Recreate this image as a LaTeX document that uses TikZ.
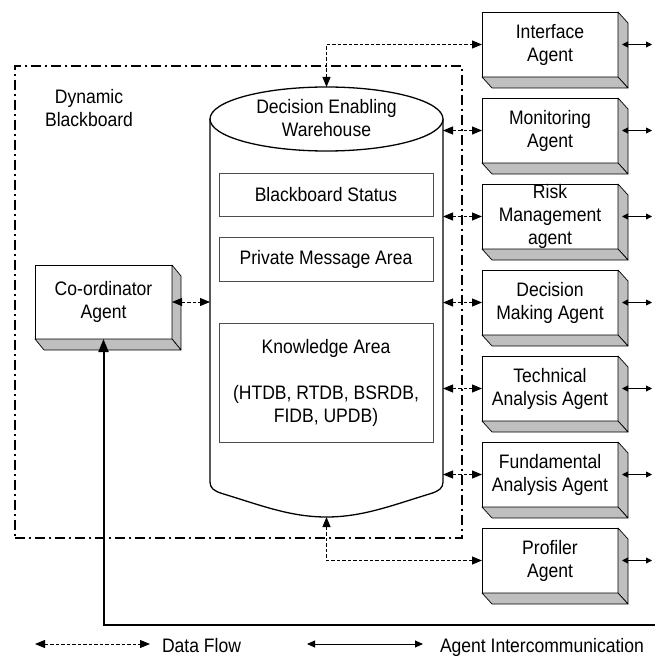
\documentclass[tikz,border=0pt]{standalone}
\usepackage{fontspec}
\setmainfont{Liberation Sans}[FakeStretch=0.9]
\usetikzlibrary{arrows.meta,shapes.geometric}

\newcommand\agentnode[4]{%
  \node[agentbox] (#1) at (#2,#3) {#4};
  \filldraw[shadeface] (#1.north east) -- ([shift={(10,11)}]#1.north east) -- ([shift={(10,11)}]#1.south east) -- (#1.south east) -- cycle;
  \filldraw[shadeface] (#1.south west) -- (#1.south east) -- ([shift={(10,11)}]#1.south east) -- ([shift={(10,11)}]#1.south west) -- cycle;
}

\begin{document}
\begin{tikzpicture}[x=1pt,y=-1pt,
  every node/.style={font=\fontsize{19.5}{23}\selectfont, inner sep=0pt, outer sep=0pt, align=center, text=black},
  shadeface/.style={fill=gray!50, draw=black, line width=0.7pt, line join=round},
  agentbox/.style={draw=black, fill=white, line width=0.7pt, minimum width=136pt, minimum height=65pt},
  innerbox/.style={draw=black!70, line width=0.8pt, minimum width=214pt},
  cyl/.style={draw=black, line width=1.3pt},
  frame/.style={draw=black, line width=1.8pt, dash pattern=on 10pt off 4pt on 2pt off 4pt},
  df/.style={draw=black, line width=0.9pt, dash pattern=on 3.5pt off 2pt, >={Triangle[length=10pt,width=8pt]}, <->},
  ic/.style={draw=black, line width=0.8pt, >={Triangle[length=6pt,width=6pt]}, <->},
  ic2/.style={draw=black, line width=0.9pt, >={Triangle[length=8pt,width=7pt]}, <->},
  thk/.style={draw=black, line width=2pt, >={Triangle[length=13pt,width=10pt]}, ->}
]
\useasboundingbox (0,0) rectangle (655,658);

% dynamic blackboard frame
\node[frame, minimum width=447pt, minimum height=472pt] (bb) at (238.5,302) {};
\node (bbl) at (89,108) {Dynamic\\Blackboard};

% cylinder
\coordinate (cylL) at (210,119);
\coordinate (cylR) at (443,119);
\coordinate (cylbot) at (326.5,517);
\draw[cyl] (cylL) -- (210,482) .. controls (210,488) and (214,491) .. (222,493.5)
  .. controls (260,505) and (290,517) .. (cylbot)
  .. controls (363,517) and (393,505) .. (431,493.5)
  .. controls (439,491) and (443,488) .. (443,482) -- (cylR);
\node[ellipse, cyl, fill=white, minimum width=233pt, minimum height=64pt] (cyltop) at (326.5,119) {};
\node (cyltext) at (326.5,118) {Decision Enabling\\Warehouse};

\node[innerbox, minimum height=43pt] (bbs) at (326,194.5) {Blackboard Status};
\node[innerbox, minimum height=44pt] (pma) at (326,259) {Private Message Area};
\node[innerbox, minimum height=119pt] (ka) at (326,382.5) {Knowledge Area\\[23pt](HTDB, RTDB, BSRDB,\\FIDB, UPDB)};

% agents
\agentnode{iface}{550}{44.5}{Interface\\Agent}
\agentnode{mon}{550}{130.5}{Monitoring\\Agent}
\agentnode{risk}{550}{216.5}{Risk\\Management\\agent}
\agentnode{dec}{550}{302.5}{Decision\\Making Agent}
\agentnode{tech}{550}{388.5}{Technical\\Analysis Agent}
\agentnode{fund}{550}{474.5}{Fundamental\\Analysis Agent}
\agentnode{prof}{550}{560.5}{Profiler\\Agent}

% coordinator
\node[agentbox, minimum width=137pt, minimum height=74pt] (coord) at (103.5,302) {Co-ordinator\\Agent};
\filldraw[shadeface] (coord.north east) -- ([shift={(9,11)}]coord.north east) -- ([shift={(9,11)}]coord.south east) -- (coord.south east) -- cycle;
\filldraw[shadeface] (coord.south west) -- (coord.south east) -- ([shift={(9,11)}]coord.south east) -- ([shift={(9,11)}]coord.south west) -- cycle;

% data flow connectors
\draw[df] (cyltop.north) -- (cyltop.north |- iface.west) -- (iface.west);
\foreach \a in {mon,risk,dec,tech,fund} {
  \draw[df] (cylR |- \a.west) -- (\a.west);
}
\draw[df] (cylbot) -- (cylbot |- prof.west) -- (prof.west);
\draw[df] (coord.east) -- (cylL |- coord.east);

% agent intercommunication
\coordinate (busR) at (652,0);
\foreach \a in {iface,mon,risk,dec,tech,fund,prof} {
  \draw[ic] ([xshift=4pt]\a.east) -- (busR |- \a.east);
}
\coordinate (edgeR) at (655,625);
\draw[thk] (edgeR) -- (coord.south |- edgeR) -- (coord.south);

% legend
\coordinate (l1a) at (35,644);
\coordinate (l1b) at (150,644);
\draw[df] (l1a) -- (l1b);
\node[anchor=base west] (l1t) at (162,652.5) {Data Flow};
\coordinate (l2a) at (307,644);
\coordinate (l2b) at (423,644);
\draw[ic2] (l2a) -- (l2b);
\node[anchor=base west] (l2t) at (440,652.5) {Agent Intercommunication};
\end{tikzpicture}
\end{document}
